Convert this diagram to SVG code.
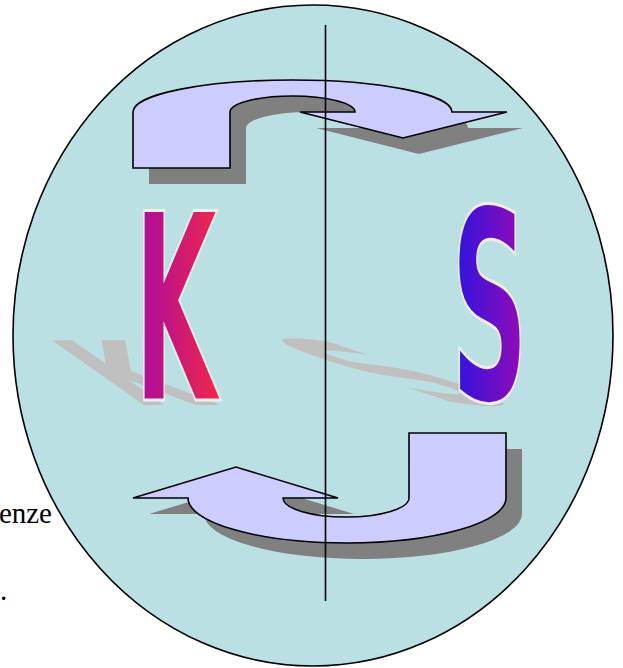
<svg xmlns="http://www.w3.org/2000/svg" width="623" height="668" viewBox="0 0 623 668">
<defs>
<style>
.arrow{fill:#ccccff;stroke:#000;stroke-width:1.6;stroke-linejoin:miter}
.shadow{fill:#808080}
.lshadow{fill:#c0c0c0;font-family:"DejaVu Sans Condensed","DejaVu Sans",sans-serif;font-weight:bold;font-size:100px}
.letter{font-family:"DejaVu Sans Condensed","DejaVu Sans",sans-serif;font-weight:bold;font-size:100px;stroke:#eeeeee;stroke-width:1.2}
.txt{font-family:"Liberation Serif","Times New Roman",serif;font-size:29px;fill:#000}
</style>
<linearGradient id="gK" x1="0" y1="0" x2="1" y2="0">
<stop offset="0" stop-color="#a60aa4"/>
<stop offset="1" stop-color="#f22848"/>
</linearGradient>
<linearGradient id="gS" x1="0" y1="0" x2="1" y2="0">
<stop offset="0" stop-color="#2814e2"/>
<stop offset="1" stop-color="#9c0ab2"/>
</linearGradient>
</defs>
<rect width="623" height="668" fill="#ffffff"/>
<g id="text-left">
<text class="txt" x="52" y="523" text-anchor="end">enze</text>
<text class="txt" x="0" y="600">.</text>
</g>
<g id="circle">
<ellipse cx="313" cy="335.5" rx="300" ry="330.5" fill="#bae0e3" stroke="#000" stroke-width="1.6"/>
</g>
<g id="letter-shadows">
<text class="lshadow" transform="matrix(1.2,0,1.26,0.89,134,405)" x="0" y="0">K</text>
<text class="lshadow" transform="matrix(1.19,0,2.65,0.9,451,405)" x="0" y="0">S</text>
</g>
<g id="arrow-top">
<path class="shadow" transform="translate(16,16)" d="M133,168 L133,112 A159.5,32 0 0 1 452,112 L507,112 L403,138 L300,112 L355,112 A62.5,16 0 0 0 230,112 L230,168 Z"/>
<path class="arrow" d="M133,168 L133,112 A159.5,32 0 0 1 452,112 L507,112 L403,138 L300,112 L355,112 A62.5,16 0 0 0 230,112 L230,168 Z"/>
</g>
<g id="arrow-bottom">
<path class="shadow" transform="translate(16,16)" d="M409,433 L506,433 L506,498 A159,45 0 0 1 188,498 L133,498 L236,467 L338,498 L283,498 A63,19 0 0 0 409,498 Z"/>
<path class="arrow" d="M409,433 L506,433 L506,498 A159,45 0 0 1 188,498 L133,498 L236,467 L338,498 L283,498 A63,19 0 0 0 409,498 Z"/>
</g>
<g id="letter-K">
<text class="letter" fill="url(#gK)" transform="translate(134,400) scale(1.2,2.6)" x="0" y="0">K</text>
</g>
<g id="letter-S">
<text class="letter" fill="url(#gS)" transform="translate(451,400) scale(1.19,2.65)" x="0" y="0">S</text>
</g>
<g id="connectors">
<line x1="325.5" y1="25" x2="325.5" y2="601" stroke="#000" stroke-width="1.6"/>
</g>
</svg>
